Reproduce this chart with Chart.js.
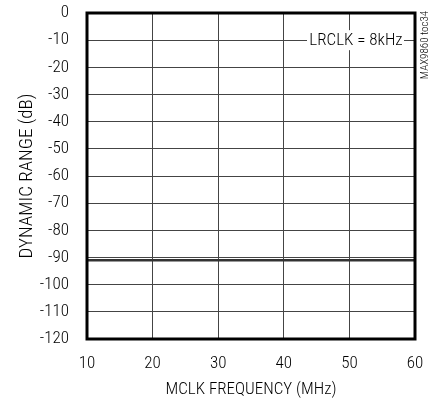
<!DOCTYPE html>
<html>
<head>
<meta charset="utf-8">
<script src="https://cdn.jsdelivr.net/npm/chart.js@4.4.1/dist/chart.umd.min.js"></script>
<style>
  body { margin: 0; background: #fff; }
  #wrap { width: 432px; height: 400px; }
</style>
</head>
<body>
<div id="wrap"><canvas id="drChart" width="432" height="400"></canvas></div>
<script>
// values
const mclkMHz = [10, 20, 30, 40, 50, 60];
const dynRange = [-91, -91, -91, -91, -91, -91];
const xTicks = [10, 20, 30, 40, 50, 60];
const yTicks = [0, -10, -20, -30, -40, -50, -60, -70, -80, -90, -100, -110, -120];

const fontFam = "'Roboto Condensed', 'Liberation Sans Narrow', sans-serif";

// frame + notes drawn on top of the chart
const framePlugin = {
  id: "frame",
  afterDraw(chart) {
    const ctx = chart.ctx;
    const a = chart.chartArea;
    const yS = chart.scales.y;

    // LRCLK label with white box over the grid
    const ly = yS.getPixelForValue(-10);
    ctx.save();
    ctx.fillStyle = "#fff";
    ctx.fillRect(307, ly - 10, 97, 20);
    ctx.fillStyle = "#000";
    ctx.font = "300 17px " + fontFam;
    ctx.textAlign = "center";
    ctx.textBaseline = "middle";
    ctx.fillText("LRCLK = 8kHz", 356, ly + 1);

    // border
    ctx.strokeStyle = "#000";
    ctx.lineWidth = 3;
    ctx.strokeRect(a.left, a.top, a.right - a.left, a.bottom - a.top);

    // part number, rotated
    ctx.translate(425, 45);
    ctx.rotate(-Math.PI / 2);
    ctx.font = "300 11px " + fontFam;
    ctx.fillText("MAX9860 toc34", 0, 0);
    ctx.restore();
  }
};

// stop the axes from pushing the plot area in
function noAutoPad(scale) {
  scale.paddingTop = 0;
  scale.paddingBottom = 0;
  scale.paddingLeft = 0;
  scale.paddingRight = 0;
}

const ctx = document.getElementById("drChart");

const myChart = new Chart(ctx, {
  type: "line",
  data: {
    datasets: [
      {
        label: "Dynamic Range",
        data: mclkMHz.map((x, i) => ({ x: x, y: dynRange[i] })),
        borderColor: "#333",
        borderWidth: 2.5,
        pointRadius: 0,
        fill: false,
        tension: 0,
      },
    ],
  },
  options: {
    responsive: false,
    animation: false,
    layout: {
      padding: { left: 0, right: 17, top: 13, bottom: 0 },
    },
    plugins: {
      legend: { display: false },
      tooltip: { enabled: false },
    },
    scales: {
      x: {
        type: "linear",
        min: 10,
        max: 60,
        afterBuildTicks: (scale) => {
          scale.ticks = xTicks.map((v) => ({ value: v }));
        },
        afterFit: (scale) => {
          scale.height = 61;
          noAutoPad(scale);
        },
        grid: { color: "#444", lineWidth: 1, drawTicks: false },
        border: { display: false },
        ticks: {
          padding: 15,
          color: "#000",
          font: { family: fontFam, size: 17, weight: "300" },
        },
        title: {
          display: true,
          text: "MCLK FREQUENCY (MHz)",
          color: "#000",
          font: { family: fontFam, size: 17, weight: "300" },
          padding: { top: 0, bottom: 0 },
        },
      },
      y: {
        min: -120,
        max: 0,
        afterBuildTicks: (scale) => {
          scale.ticks = yTicks.map((v) => ({ value: v }));
        },
        afterFit: (scale) => {
          scale.width = 87;
          noAutoPad(scale);
        },
        grid: { color: "#444", lineWidth: 1, drawTicks: false },
        border: { display: false },
        ticks: {
          padding: 18,
          color: "#000",
          font: { family: fontFam, size: 17, weight: "300" },
        },
        title: {
          display: true,
          text: "DYNAMIC RANGE (dB)",
          color: "#000",
          font: { family: fontFam, size: 19, weight: "300" },
          padding: { top: 16, bottom: 0 },
        },
      },
    },
  },
  plugins: [framePlugin],
});
</script>
</body>
</html>
